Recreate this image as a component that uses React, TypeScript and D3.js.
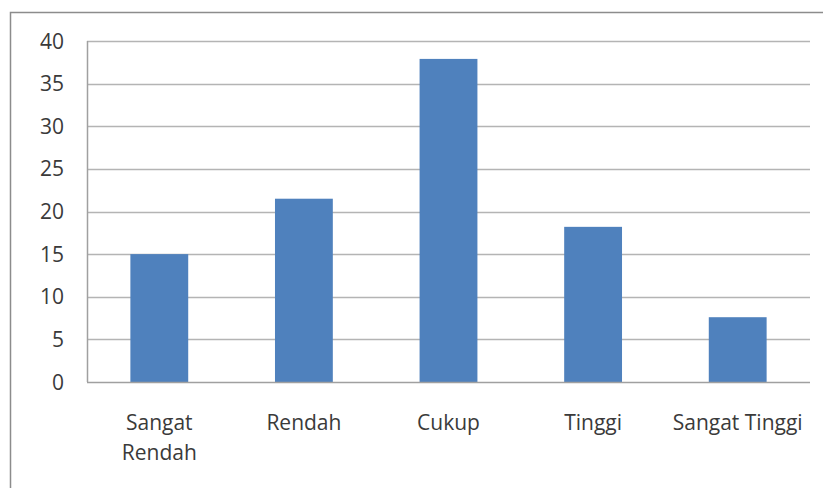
import * as d3 from "d3";
import { useEffect, useRef } from "react";

const categories = ["Sangat Rendah", "Rendah", "Cukup", "Tinggi", "Sangat Tinggi"];
const categoryLines = [["Sangat", "Rendah"], ["Rendah"], ["Cukup"], ["Tinggi"], ["Sangat Tinggi"]];
const values = [15, 21.5, 37.9, 18.2, 7.6];
const yTicks = [0, 5, 10, 15, 20, 25, 30, 35, 40];

const W = 823;
const H = 488;

function App() {
	const ref = useRef<SVGSVGElement>(null);

	useEffect(() => {
		const svg = d3.select(ref.current);
		svg.selectAll("*").remove();

		const margin = { top: 41, left: 87, right: 13, bottom: 106 };
		const width = W - margin.left - margin.right;
		const height = H - margin.top - margin.bottom;
		const font = "'Open Sans', 'Noto Sans', sans-serif";

		// outer chart border, runs off the bottom/right of the picture
		svg.append("rect")
			.attr("x", 10.5)
			.attr("y", 12.5)
			.attr("width", W + 20)
			.attr("height", H + 20)
			.attr("fill", "white")
			.attr("stroke", "#8c8c8c")
			.attr("stroke-width", 1.5);

		const g = svg.append("g").attr("transform", `translate(${margin.left},${margin.top})`);

		const x = d3.scaleBand().domain(categories).range([0, width]).paddingInner(0.6).paddingOuter(0.3);
		const y = d3.scaleLinear().domain([0, 40]).range([height, 0]);

		g.selectAll(".grid")
			.data(yTicks.filter((t) => t > 0))
			.enter()
			.append("line")
			.attr("x1", 0)
			.attr("x2", width)
			.attr("y1", (d) => Math.round(y(d)) + 0.5)
			.attr("y2", (d) => Math.round(y(d)) + 0.5)
			.attr("stroke", "#b4b4b4")
			.attr("stroke-width", 1.5);

		g.selectAll(".tick-label")
			.data(yTicks)
			.enter()
			.append("text")
			.attr("x", -23)
			.attr("y", (d) => y(d))
			.attr("dy", "0.36em")
			.attr("text-anchor", "end")
			.attr("font-family", font)
			.attr("font-size", 21)
			.attr("fill", "#3a3a3a")
			.text((d) => d);

		g.selectAll(".bar")
			.data(values)
			.enter()
			.append("rect")
			.attr("x", (d, i) => x(categories[i]) as number)
			.attr("y", (d) => y(d))
			.attr("width", x.bandwidth())
			.attr("height", (d) => height - y(d))
			.attr("fill", "#4f81bd");

		// axes
		g.append("line")
			.attr("x1", 0.5)
			.attr("x2", 0.5)
			.attr("y1", 0)
			.attr("y2", height)
			.attr("stroke", "#a0a0a0")
			.attr("stroke-width", 1.5);
		g.append("line")
			.attr("x1", 0)
			.attr("x2", width)
			.attr("y1", height + 0.5)
			.attr("y2", height + 0.5)
			.attr("stroke", "#a0a0a0")
			.attr("stroke-width", 1.5);

		categoryLines.forEach((lines, i) => {
			const cx = (x(categories[i]) as number) + x.bandwidth() / 2;
			const t = g.append("text")
				.attr("text-anchor", "middle")
				.attr("font-family", font)
				.attr("font-size", 21)
				.attr("fill", "#3a3a3a");
			lines.forEach((line, j) => {
				t.append("tspan")
					.attr("x", cx)
					.attr("y", height + 48 + j * 30)
					.text(line);
			});
		});
	}, []);

	return (
		<svg
			ref={ref}
			width={W}
			height={H}
			style={{ position: "absolute", left: 0, top: 0, background: "white" }}
		/>
	);
}

export default App;
